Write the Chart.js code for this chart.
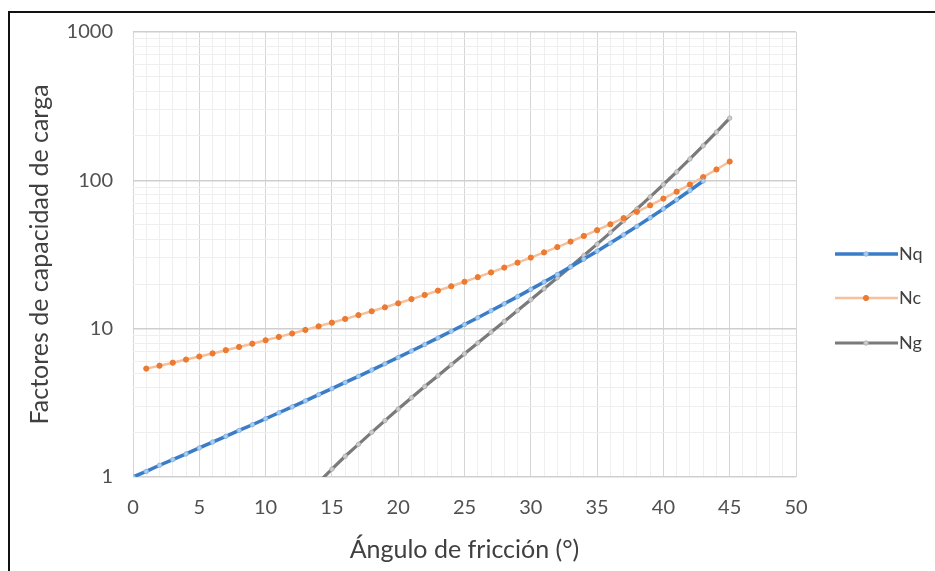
<!DOCTYPE html>
<html><head><meta charset="utf-8">
<script src="https://cdn.jsdelivr.net/npm/chart.js@4/dist/chart.umd.min.js"></script>
<style>html,body{margin:0;padding:0;background:#fff;overflow:hidden}#wrap{position:relative;width:935px;height:571px}</style>
</head><body><div id="wrap"><canvas id="c" width="935" height="571"></canvas></div>
<script>
// Ángulo de fricción (°)
const angulo = [0,1,2,3,4,5,6,7,8,9,10,11,12,13,14,15,16,17,18,19,20,21,22,23,24,25,26,27,28,29,30,31,32,33,34,35,36,37,38,39,40,41,42,43,44,45];
const Nq = [1.00,1.09,1.20,1.31,1.43,1.57,1.72,1.88,2.06,2.25,2.47,2.71,2.97,3.26,3.59,3.94,4.34,4.77,5.26,5.80,6.40,7.07,7.82,8.66,9.60,10.66,11.85,13.20,14.72,16.44,18.40,20.63,23.18,26.09,29.44,33.30,37.75,42.92,48.93,55.96,64.20,73.90,85.38,99.02,null,null];
const Nc = [null,5.38,5.63,5.90,6.19,6.49,6.81,7.16,7.53,7.92,8.35,8.80,9.28,9.81,10.37,10.98,11.63,12.34,13.10,13.93,14.83,15.82,16.88,18.05,19.32,20.72,22.25,23.94,25.80,27.86,30.14,32.67,35.49,38.64,42.16,46.12,50.59,55.63,61.35,67.87,75.31,83.86,93.71,105.11,118.37,133.88];
const Ng = [null,null,null,null,null,null,null,null,null,null,null,null,null,null,0.92,1.13,1.38,1.66,2.00,2.40,2.87,3.42,4.07,4.82,5.72,6.77,8.00,9.46,11.19,13.24,15.67,18.56,22.02,26.17,31.15,37.15,44.43,53.27,64.07,77.33,93.69,113.99,139.32,171.14,211.41,262.74];
const seriesNames = ['Nq','Nc','Ng'];
const xTickValues = [0,1,2,3,4,5,6,7,8,9,10,11,12,13,14,15,16,17,18,19,20,21,22,23,24,25,26,27,28,29,30,31,32,33,34,35,36,37,38,39,40,41,42,43,44,45,46,47,48,49,50];
const yTickValues = [1,2,3,4,5,6,7,8,9,10,20,30,40,50,60,70,80,90,100,200,300,400,500,600,700,800,900,1000];
const yLabelValues = [1,10,100,1000];

const pts = arr => angulo.map((a,i)=>arr[i]==null?null:{x:a,y:arr[i]}).filter(p=>p);

const styles = [
  {line:'#3a7cc8', w:3.5, pbg:'#a9cdee', pbd:'#8ab8e4', r:2.2},
  {line:'#f6c09a', w:2.5, pbg:'#ec7a30', pbd:'#ec7a30', r:2.6},
  {line:'#7a7a7a', w:3.2, pbg:'#cccccc', pbd:'#b5b5b5', r:2.2}
];
const dataArrays = [Nq, Nc, Ng];

const fontFam = 'Lato, "Liberation Sans", sans-serif';
const tickColor = '#505050';

const framePlugin = {
  id:'frame',
  beforeDraw(chart){const c=chart.ctx;c.save();c.fillStyle='#fff';c.fillRect(0,0,chart.width,chart.height);c.restore();},
  afterDraw(chart){
    const c=chart.ctx;
    c.save();
    c.strokeStyle='#111';c.lineWidth=2;
    c.beginPath();c.moveTo(9,571);c.lineTo(9,12);c.lineTo(935,12);c.stroke();
    // legend
    const ys=[254,298,343];
    seriesNames.forEach((n,i)=>{
      const s=styles[i];
      c.strokeStyle=s.line;c.lineWidth=s.w;
      c.beginPath();c.moveTo(835,ys[i]);c.lineTo(898,ys[i]);c.stroke();
      c.fillStyle=s.pbg;c.strokeStyle=s.pbd;c.lineWidth=1;
      c.beginPath();c.arc(866,ys[i],s.r,0,Math.PI*2);c.fill();c.stroke();
      c.fillStyle='#404040';c.font='18px '+fontFam;c.textBaseline='middle';c.textAlign='left';
      c.fillText(n,899,ys[i]);
    });
    c.restore();
  }
};

new Chart(document.getElementById('c'), {
  type:'line',
  data:{
    datasets: seriesNames.map((n,i)=>({
      label:n, data:pts(dataArrays[i]),
      borderColor:styles[i].line, borderWidth:styles[i].w,
      pointRadius:styles[i].r, pointBackgroundColor:styles[i].pbg, pointBorderColor:styles[i].pbd, pointBorderWidth:1,
      tension:0, fill:false
    }))
  },
  options:{
    responsive:false, animation:false, devicePixelRatio:1,
    layout:{padding:{top:31,right:139,bottom:0,left:0}},
    plugins:{legend:{display:false}, tooltip:{enabled:false}},
    scales:{
      x:{type:'linear', min:0, max:50,
        afterBuildTicks:s=>{s.ticks=xTickValues.map(v=>({value:v}));},
        afterFit:s=>{s.height=94;},
        ticks:{autoSkip:false, maxRotation:0, padding:19, color:tickColor, font:{family:fontFam,size:20},
          callback:v=> v%5===0 ? String(v) : ''},
        grid:{drawTicks:false, color:ctx=> (ctx.tick && ctx.tick.value%5===0) ? '#d6d6d6' : '#efefef', lineWidth:1},
        border:{display:false},
        title:{display:true, text:'Ángulo de fricción (°)', color:'#404040', font:{family:fontFam,size:25}, padding:{top:0,bottom:6}}
      },
      y:{type:'logarithmic', min:1, max:1000,
        afterBuildTicks:s=>{s.ticks=yTickValues.map(v=>({value:v}));},
        afterFit:s=>{s.width=133;},
        ticks:{autoSkip:false, padding:20, color:tickColor, font:{family:fontFam,size:20},
          callback:v=> yLabelValues.includes(v) ? String(v) : ''},
        grid:{drawTicks:false, color:ctx=> (ctx.tick && yLabelValues.includes(ctx.tick.value)) ? '#cfcfcf' : '#eeeeee', lineWidth:ctx=> (ctx.tick && yLabelValues.includes(ctx.tick.value)) ? 1.5 : 1},
        border:{display:false},
        title:{display:true, text:'Factores de capacidad de carga', color:'#404040', font:{family:fontFam,size:25}, padding:{top:25,bottom:0}}
      }
    }
  },
  plugins:[framePlugin]
});
</script>
</body></html>
